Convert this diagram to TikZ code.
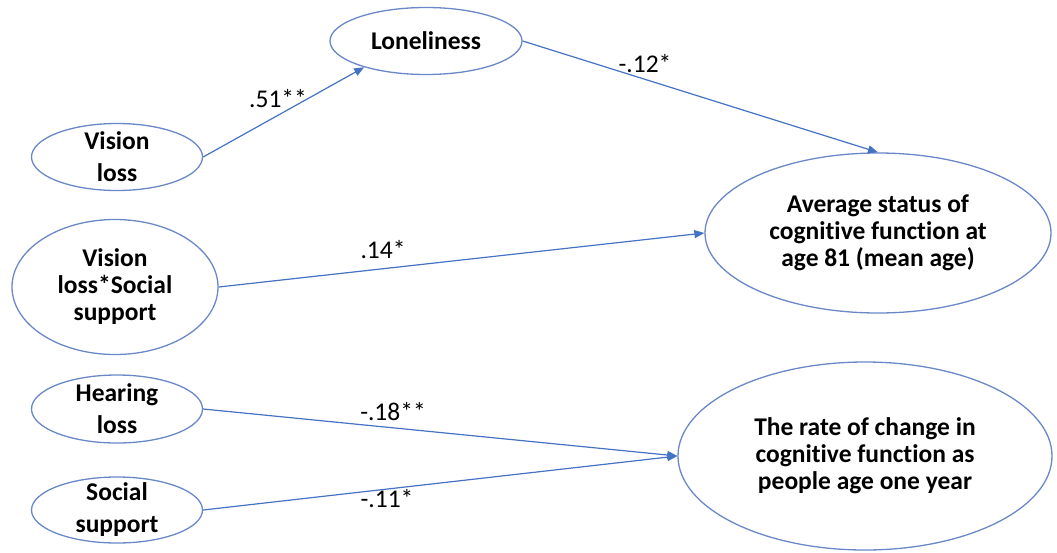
\documentclass[tikz,border=0pt]{standalone}
\usepackage{fontspec}
\setmainfont{Carlito}[Ligatures=NoCommon]
\usetikzlibrary{shapes.geometric,arrows.meta}
\definecolor{edgeblue}{HTML}{4472C4}
\definecolor{ringblue}{HTML}{6A87C8}
\begin{document}
\begin{tikzpicture}[x=1pt,y=-1pt,
  var/.style={ellipse,draw=ringblue,line width=1.3pt,inner sep=-8pt,align=center,font=\bfseries\fontsize{25.5}{32}\selectfont},
  bigvar/.style={var,font=\bfseries\fontsize{25.5}{27}\selectfont},
  path/.style={draw=edgeblue,line width=1.2pt,-{Triangle[length=10pt,width=8pt]}},
  coef/.style={anchor=base,inner sep=0pt,font=\fontsize{25.5}{28}\selectfont}]
\useasboundingbox (0,0) rectangle (1057,552);
\node[var,minimum width=192pt,minimum height=67pt] (lon) at (426,41) {Loneliness};
\node[var,minimum width=171pt,minimum height=67pt] (vis) at (117,157) {Vision\\loss};
\node[bigvar,minimum width=206pt,minimum height=135pt] (vss) at (115,287) {Vision\\loss*Social\\support};
\node[var,minimum width=171pt,minimum height=68pt] (hear) at (117,409) {Hearing\\loss};
\node[var,minimum width=171pt,minimum height=66pt] (soc) at (117,510) {Social\\support};
\node[bigvar,minimum width=346pt,minimum height=160pt] (avg) at (878,233) {Average status of\\cognitive function at\\age 81 (mean age)};
\node[bigvar,minimum width=374pt,minimum height=188pt] (rate) at (865,456) {The rate of change in\\cognitive function as\\people age one year};
\draw[path] (vis.east) -- (lon.203);
\draw[path] (lon.east) -- (avg.north);
\draw[path] (vss.east) -- (avg.west);
\draw[path] (hear.east) -- (rate.west);
\draw[path] (soc.east) -- (rate.west);
\node[coef] (c1) at (278,107) {.51**};
\node[coef] (c2) at (645,72) {-.12*};
\node[coef] (c3) at (383,258) {.14*};
\node[coef] (c4) at (393,420) {-.18**};
\node[coef] (c5) at (387,507) {-.11*};
\end{tikzpicture}
\end{document}
